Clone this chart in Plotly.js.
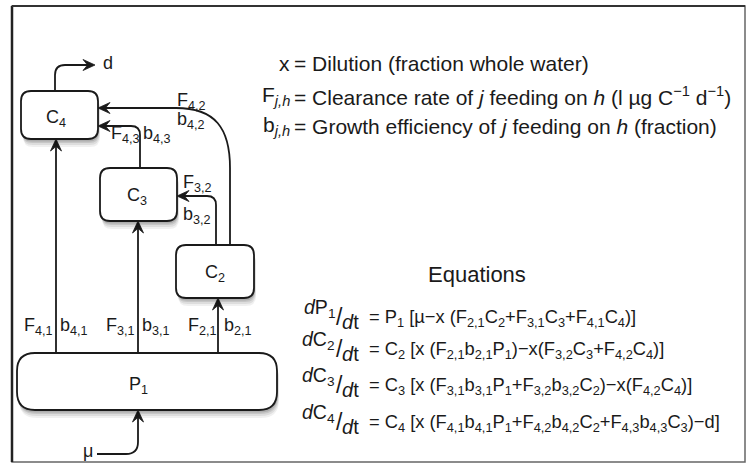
<!DOCTYPE html>
<html>
<head>
<meta charset="utf-8">
<script src="https://cdn.plot.ly/plotly-3.0.1.min.js"></script>
<style>html,body{margin:0;padding:0;background:#fff}#chart{width:749px;height:464px}</style>
</head>
<body>
<div id="chart"></div>
<script>
// ---- content (text) ----
const nodeNames = ['C<sub>4</sub>', 'C<sub>3</sub>', 'C<sub>2</sub>', 'P<sub>1</sub>'];
const flowF = ['F<sub>4,1</sub>', 'F<sub>3,1</sub>', 'F<sub>2,1</sub>', 'F<sub>4,3</sub>', 'F<sub>3,2</sub>', 'F<sub>4,2</sub>'];
const flowB = ['b<sub>4,1</sub>', 'b<sub>3,1</sub>', 'b<sub>2,1</sub>', 'b<sub>4,3</sub>', 'b<sub>3,2</sub>', 'b<sub>4,2</sub>'];
const sourceLabel = 'μ';
const sinkLabel = 'd';
const legendSymbols = ['x', 'F<sub><i>j,h</i></sub>', 'b<sub><i>j,h</i></sub>'];
const legendDefs = [
  '= Dilution (fraction whole water)',
  '= Clearance rate of <i>j</i> feeding on <i>h</i> (l µg C<sup>−1</sup> d<sup>−1</sup>)',
  '= Growth efficiency of <i>j</i> feeding on <i>h</i> (fraction)'
];
const eqTitle = 'Equations';
const eqNumerators = ['<i>d</i>P<sub>1</sub>', '<i>d</i>C<sub>2</sub>', '<i>d</i>C<sub>3</sub>', '<i>d</i>C<sub>4</sub>'];
const eqDenominator = '<i>d</i>t';
const eqRHS = [
  '= P<sub>1</sub> [µ−x (F<sub>2,1</sub>C<sub>2</sub>+F<sub>3,1</sub>C<sub>3</sub>+F<sub>4,1</sub>C<sub>4</sub>)]',
  '= C<sub>2</sub> [x (F<sub>2,1</sub>b<sub>2,1</sub>P<sub>1</sub>)−x(F<sub>3,2</sub>C<sub>3</sub>+F<sub>4,2</sub>C<sub>4</sub>)]',
  '= C<sub>3</sub> [x (F<sub>3,1</sub>b<sub>3,1</sub>P<sub>1</sub>+F<sub>3,2</sub>b<sub>3,2</sub>C<sub>2</sub>)−x(F<sub>4,2</sub>C<sub>4</sub>)]',
  '= C<sub>4</sub> [x (F<sub>4,1</sub>b<sub>4,1</sub>P<sub>1</sub>+F<sub>4,2</sub>b<sub>4,2</sub>C<sub>2</sub>+F<sub>4,3</sub>b<sub>4,3</sub>C<sub>3</sub>)−d]'
];

// ---- diagram geometry (pixel-like coordinates on the axes) ----
const geom = {
  frame: [12, 6, 745, 462],
  boxes: [ // x0,y0,x1,y1,r ; label x,y
    {b: [21, 91, 98, 139, 10], l: [56, 118]},
    {b: [100, 168, 177, 221, 10], l: [137, 196]},
    {b: [176, 245, 254, 298, 10], l: [215, 273]},
    {b: [17, 353, 277, 410, 18], l: [138, 385]}
  ],
  fPos: [[38, 326], [120, 326], [202, 326], [125, 134], [197, 183], [191, 101]],
  bPos: [[74, 326], [156, 326], [238, 326], [157, 134], [197, 215], [191, 120]],
  legendY: [63, 96, 126],
  legendX: 290,
  eqTitle: [477, 274],
  eqY: [318, 350, 386, 423],
  eqNumX: 335, eqSlashX: 339, eqDenX: 342, eqRhsX: 369
};

const FONT = 'Liberation Sans, Arial, Helvetica, sans-serif';
const INK = '#1a1a1a';

function rr(x0, y0, x1, y1, r) {
  return `M${x0 + r},${y0} H${x1 - r} Q${x1},${y0} ${x1},${y0 + r} V${y1 - r} Q${x1},${y1} ${x1 - r},${y1} H${x0 + r} Q${x0},${y1} ${x0},${y1 - r} V${y0 + r} Q${x0},${y0} ${x0 + r},${y0} Z`;
}
function head(x, y, dx, dy) {
  const L = 12, W = 5.5;
  const bx = x - dx * L, by = y - dy * L;
  const px = -dy, py = dx;
  const nx = x - dx * L * 0.62, ny = y - dy * L * 0.62;
  return `M${x},${y} L${bx + px * W},${by + py * W} L${nx},${ny} L${bx - px * W},${by - py * W} Z`;
}

const shapes = [];
const line = (path) => shapes.push({type: 'path', xref: 'x', yref: 'y', path, line: {color: INK, width: 1.8}, fillcolor: 'rgba(0,0,0,0)'});
const fillp = (path) => shapes.push({type: 'path', xref: 'x', yref: 'y', path, line: {color: INK, width: 0.8}, fillcolor: INK});

// frame
const f = geom.frame;
shapes.push({type: 'rect', xref: 'x', yref: 'y', x0: f[0], y0: f[1], x1: f[2], y1: f[3], line: {color: '#666', width: 1.5}});
shapes.push({type: 'line', xref: 'x', yref: 'y', x0: f[0], y0: f[1], x1: f[0], y1: f[3], line: {color: '#222', width: 2.5}});
shapes.push({type: 'line', xref: 'x', yref: 'y', x0: f[0], y0: f[1], x1: f[2], y1: f[1], line: {color: '#333', width: 2}});

// connectors
line('M56,353 V146');            // P1 -> C4
fillp(head(56, 139, 0, -1));
line('M138,353 V228');           // P1 -> C3
fillp(head(138, 221, 0, -1));
line('M218,353 V305');           // P1 -> C2
fillp(head(218, 298, 0, -1));
line('M140,168 V135 Q140,126 131,126 H105'); // C3 -> C4
fillp(head(98, 126, -1, 0));
line('M216,245 V205 Q216,196 207,196 H184'); // C2 -> C3
fillp(head(177, 196, -1, 0));
line('M230,245 V168 C230,128 215,108 176,108 H105'); // C2 -> C4
fillp(head(98, 108, -1, 0));
line('M55,91 V75 Q55,65 65,65 H88');  // C4 -> d
fillp(head(95, 65, 1, 0));
line('M97,454 H126 Q138,454 138,442 V417'); // mu -> P1
fillp(head(138, 410, 0, -1));

// boxes with soft shadows
geom.boxes.forEach(bx => {
  const [x0, y0, x1, y1, r] = bx.b;
  [[5, 8, 0.06], [4, 6, 0.08], [3, 4, 0.1], [2, 2.5, 0.12]].forEach(([ox, oy, a]) => {
    shapes.push({type: 'path', xref: 'x', yref: 'y', path: rr(x0 + ox * 0.4, y0 + oy, x1 + ox * 0.4, y1 + oy, r), line: {width: 0}, fillcolor: `rgba(0,0,0,${a})`});
  });
  shapes.push({type: 'path', xref: 'x', yref: 'y', path: rr(x0, y0, x1, y1, r), line: {color: INK, width: 1.8}, fillcolor: '#fff'});
});

const annotations = [];
const txt = (text, x, y, xanchor, size, extra) => annotations.push(Object.assign({
  text, x, y, xref: 'x', yref: 'y', xanchor: xanchor || 'center', yanchor: 'middle', showarrow: false,
  borderpad: 0, borderwidth: 0,
  font: {family: FONT, size: size || 18, color: INK}
}, extra || {}));

nodeNames.forEach((n, i) => txt(n, geom.boxes[i].l[0], geom.boxes[i].l[1], 'center', 18));
flowF.forEach((t, i) => txt(t, geom.fPos[i][0], geom.fPos[i][1], 'center', 18));
flowB.forEach((t, i) => txt(t, geom.bPos[i][0], geom.bPos[i][1], 'center', 18));
txt(sinkLabel, 108, 63, 'center', 18);
txt(sourceLabel, 88, 451, 'center', 18);

legendSymbols.forEach((s, i) => txt(s, geom.legendX, geom.legendY[i], 'right', 21));
legendDefs.forEach((s, i) => txt(s, geom.legendX + 4, geom.legendY[i], 'left', 21));

txt(eqTitle, geom.eqTitle[0], geom.eqTitle[1], 'center', 22);
eqNumerators.forEach((s, i) => {
  const y = geom.eqY[i];
  txt(s, geom.eqNumX, y - 10, 'right', 19.5);
  txt('/', geom.eqSlashX, y - 1, 'center', 23);
  txt(eqDenominator, geom.eqDenX, y + 4, 'left', 20);
  txt(eqRHS[i], geom.eqRhsX, y, 'left', 18.3);
});

const layout = {
  width: 749, height: 464,
  margin: {l: 0, r: 0, t: 0, b: 0, pad: 0},
  paper_bgcolor: '#fff', plot_bgcolor: '#fff',
  showlegend: false,
  xaxis: {range: [0, 749], visible: false, showgrid: false, zeroline: false, fixedrange: true},
  yaxis: {range: [464, 0], visible: false, showgrid: false, zeroline: false, fixedrange: true},
  shapes, annotations
};
Plotly.newPlot('chart', [{x: [0], y: [0], mode: 'markers', marker: {opacity: 0}, hoverinfo: 'skip'}], layout, {staticPlot: true, displayModeBar: false});
</script>
</body>
</html>
